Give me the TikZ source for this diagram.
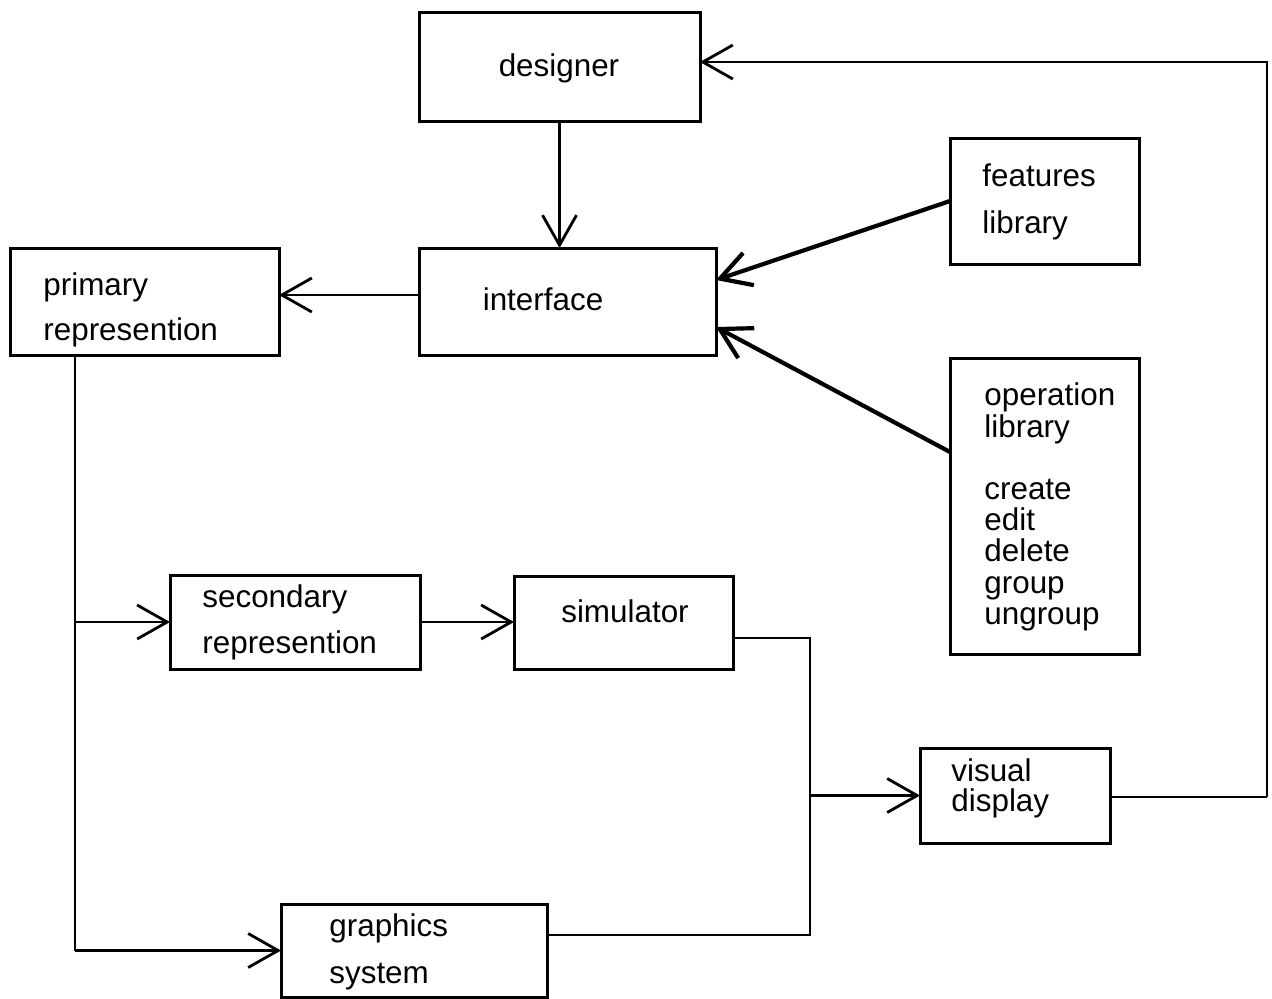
\documentclass[tikz,border=0pt]{standalone}
\usepackage{fontspec}
\setmainfont{Liberation Sans}
\usetikzlibrary{arrows.meta}
\begin{document}
\begin{tikzpicture}[x=0.5pt,y=-0.5pt,
  box/.style={draw,line width=1.5pt,inner sep=0pt,outer sep=0pt},
  txt/.style={font=\fontsize{15.7}{18}\selectfont,inner sep=0pt,anchor=mid west,yshift=-2.5pt},
  conn/.style={line width=1.4pt},
  lib/.style={line width=2.1pt},
  arr/.style={-{Straight Barb[length=15pt,width=17pt]}}]
\useasboundingbox (0,0) rectangle (1272,998);

% boxes
\node[box,minimum width=140.5pt,minimum height=54.5pt] (des)  at (559.5,66.5) {};
\node[box,minimum width=148.5pt,minimum height=53.5pt] (iface) at (567.5,301.5) {};
\node[box,minimum width=134.5pt,minimum height=53.5pt] (prim) at (144.5,301.5) {};
\node[box,minimum width=94.5pt,minimum height=63pt]    (feat) at (1044.5,201) {};
\node[box,minimum width=94.5pt,minimum height=148pt]   (ops)  at (1044.5,506) {};
\node[box,minimum width=125pt,minimum height=47pt]     (sec)  at (295,622) {};
\node[box,minimum width=109.5pt,minimum height=46.5pt] (sim)  at (623.5,622.5) {};
\node[box,minimum width=95pt,minimum height=47.5pt]    (vis)  at (1015,795.5) {};
\node[box,minimum width=133pt,minimum height=46.5pt]   (gfx)  at (414,950.5) {};

% labels
\node[txt,anchor=mid] (t-des) at (559,66) {designer};
\node[txt,anchor=mid] (t-iface) at (543,300) {interface};
\node[txt] (t-prim1) at (43,285) {primary};
\node[txt] (t-prim2) at (43,330) {represention};
\node[txt] (t-feat1) at (982,176) {features};
\node[txt] (t-feat2) at (982,223) {library};
\node[txt] (t-ops1) at (984,395) {operation};
\node[txt] (t-ops2) at (984,427) {library};
\node[txt] (t-ops3) at (984,489) {create};
\node[txt] (t-ops4) at (984,520) {edit};
\node[txt] (t-ops5) at (984,551) {delete};
\node[txt] (t-ops6) at (984,583) {group};
\node[txt] (t-ops7) at (984,614) {ungroup};
\node[txt] (t-sec1) at (202,597) {secondary};
\node[txt] (t-sec2) at (202,643) {represention};
\node[txt,anchor=mid] (t-sim) at (625,612) {simulator};
\node[txt] (t-vis1) at (951,771) {visual};
\node[txt] (t-vis2) at (951,801) {display};
\node[txt] (t-gfx1) at (329,926) {graphics};
\node[txt] (t-gfx2) at (329,973) {system};

% junctions
\coordinate (j1) at (75,622);
\coordinate (j2) at (75,950.5);
\coordinate (j3) at (810,795.5);
\coordinate (back) at (1267,797);

% connectors
\draw[conn,arr] (des.south) -- (des.south |- iface.north);
\draw[conn,arr] (iface.west |- 0,295) -- (prim.east |- 0,295);
\draw[lib,arr] (feat.west) -- (iface.east |- 0,280);
\draw[lib,arr] (ops.west |- 0,452) -- (iface.east |- 0,327);
\draw[conn] (prim.south -| j1) -- (j2);
\draw[conn,arr] (j1) -- (sec.west);
\draw[conn,arr] (j2) -- (gfx.west);
\draw[conn,arr] (sec.east) -- (sim.west |- sec.east);
\draw[conn] (sim.east |- 0,638) -| (j3);
\draw[conn] (gfx.east |- 0,935) -| (j3);
\draw[conn,arr] (j3) -- (vis.west);
\draw[conn] (vis.east |- back) -- (back);
\draw[conn,arr] (back) |- (des.east |- 0,62);
\end{tikzpicture}
\end{document}
